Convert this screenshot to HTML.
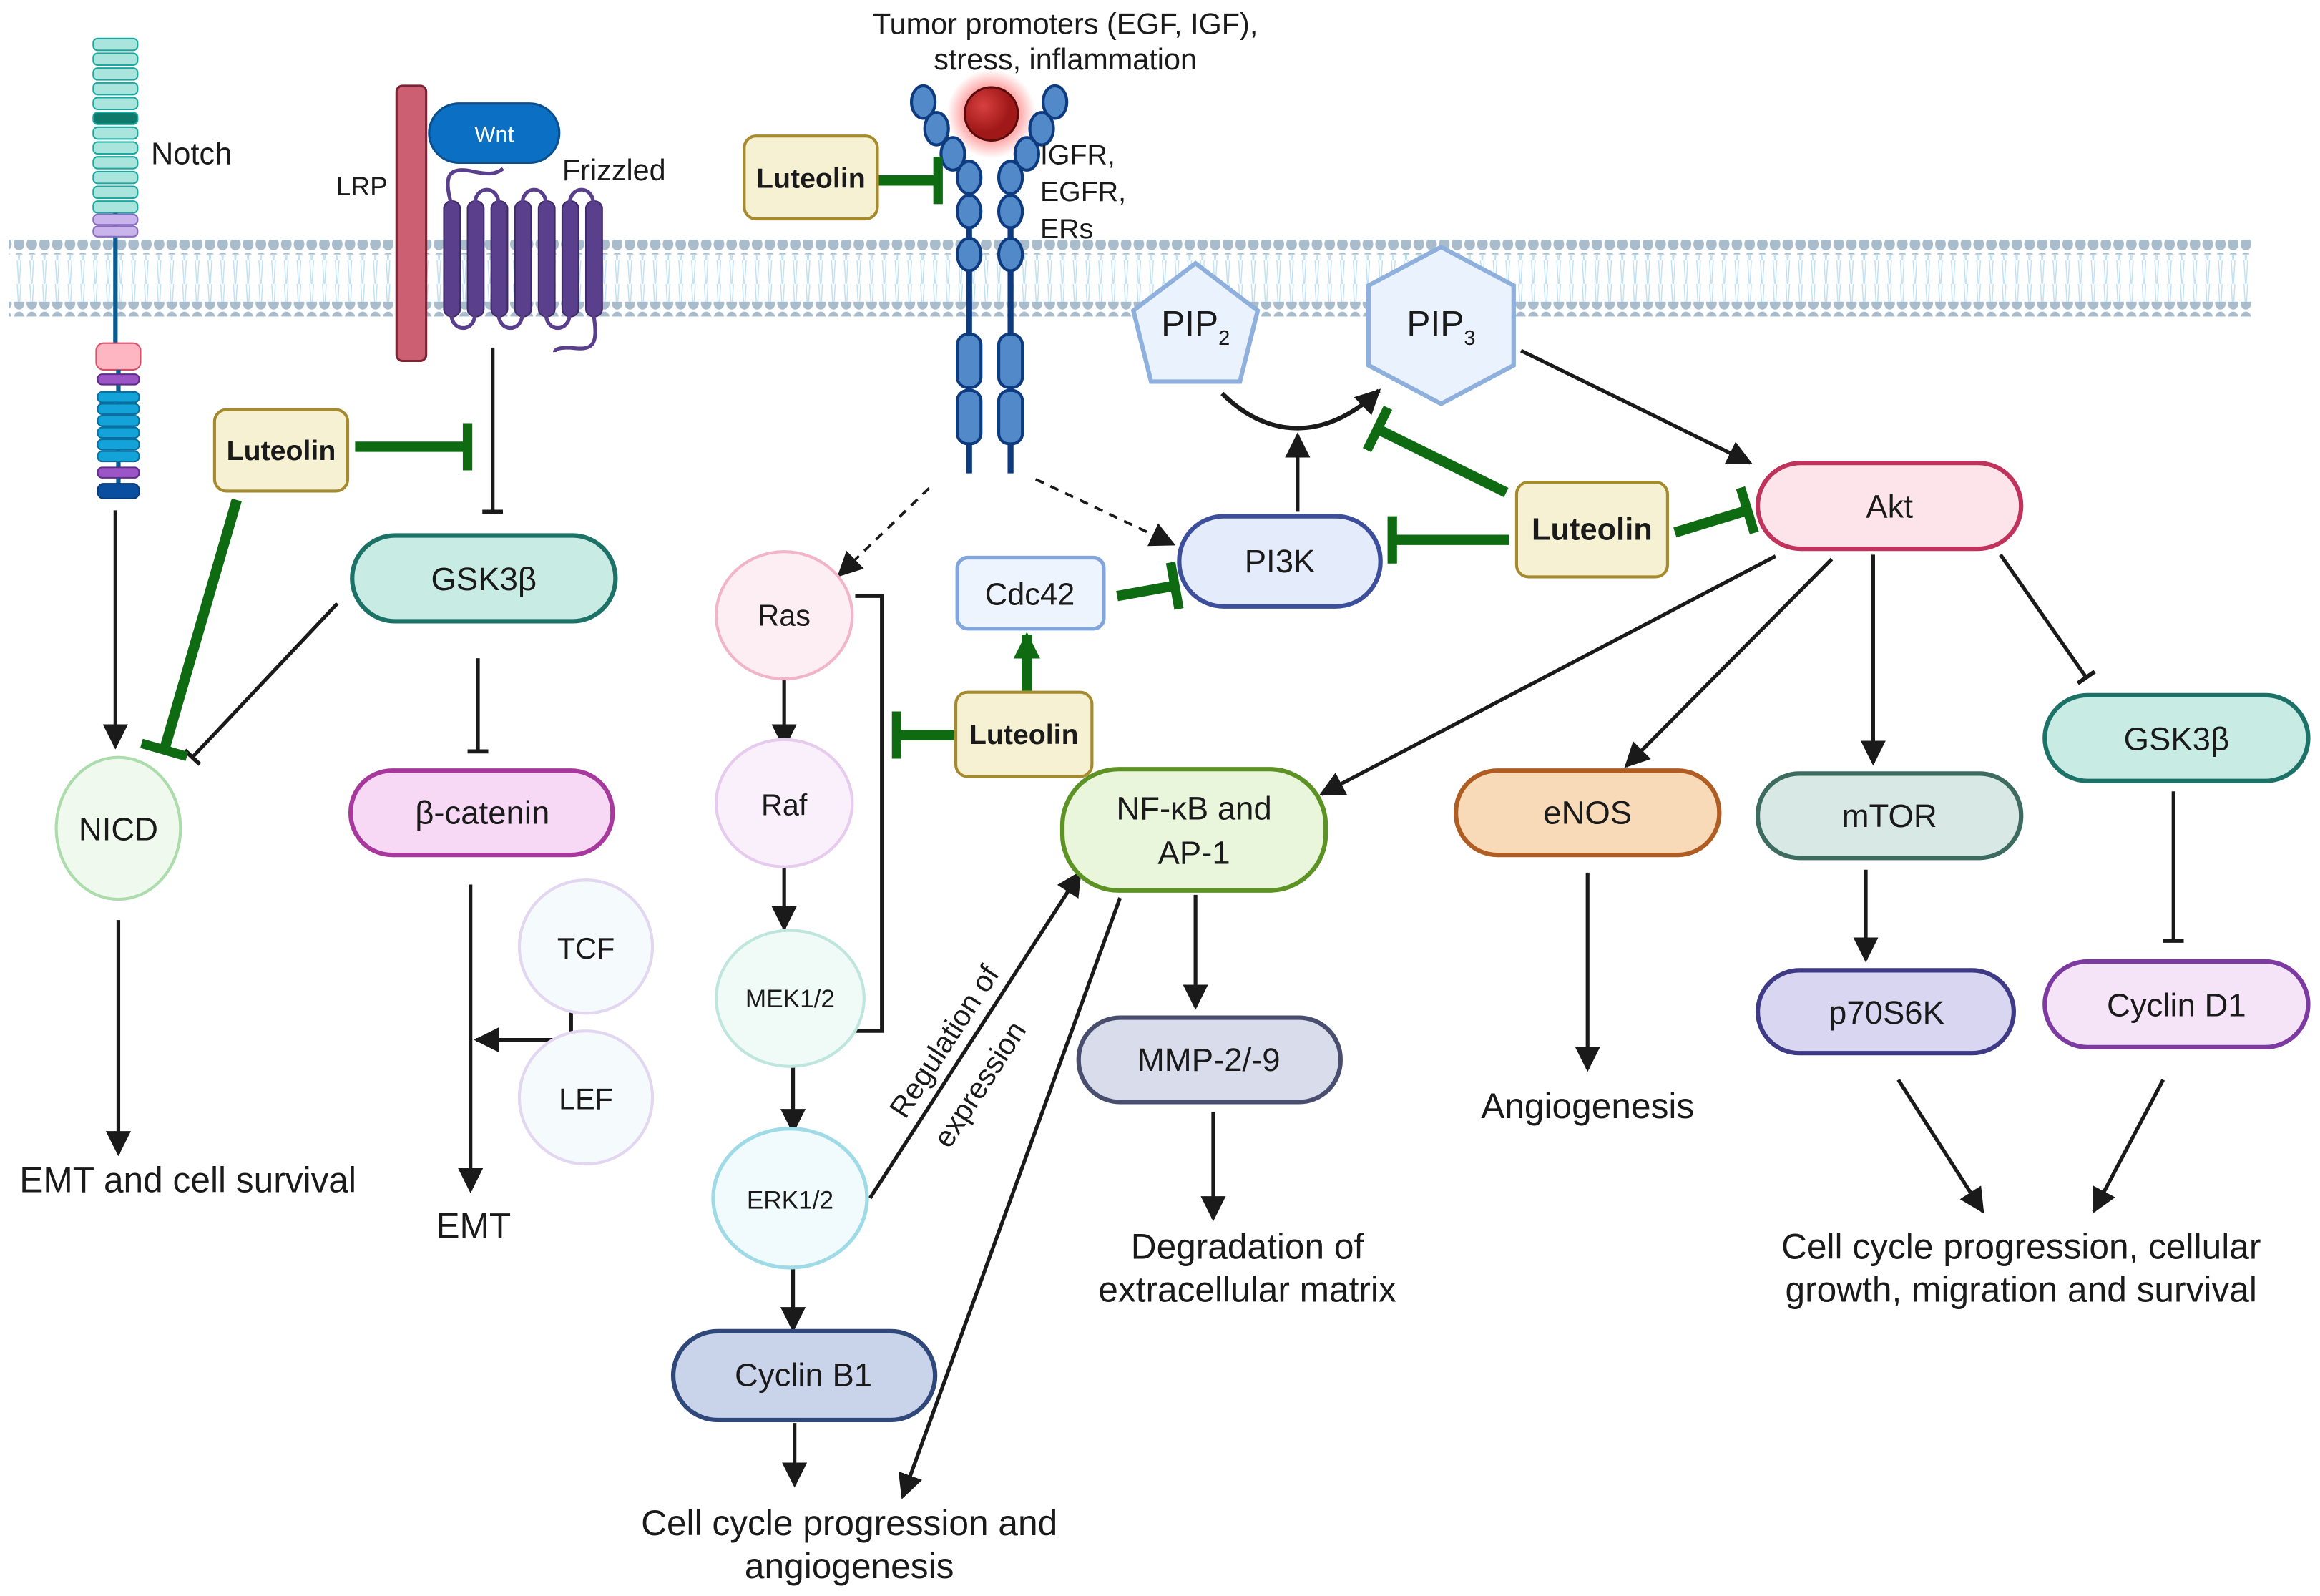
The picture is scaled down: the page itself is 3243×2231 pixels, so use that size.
<!DOCTYPE html>
<html><head><meta charset="utf-8"><style>
html,body{margin:0;padding:0;background:#fff;}
svg{display:block;}
text{font-family:"Liberation Sans",sans-serif;fill:#1a1a1a;}
</style></head><body>
<svg width="3243" height="2231" viewBox="0 0 1568 1079" preserveAspectRatio="none" xmlns="http://www.w3.org/2000/svg">
<defs>
<marker id="a" viewBox="0 0 10 10" refX="9" refY="5" markerWidth="17" markerHeight="17" orient="auto" markerUnits="userSpaceOnUse"><path d="M0,0L10,5L0,10z" fill="#1a1a1a"/></marker>
<marker id="ag" viewBox="0 0 10 10" refX="9" refY="5" markerWidth="18" markerHeight="18" orient="auto" markerUnits="userSpaceOnUse"><path d="M0,0L10,5L0,10z" fill="#0e6b12"/></marker>
<marker id="bar" viewBox="0 0 4 20" refX="2" refY="10" markerWidth="3" markerHeight="14" orient="auto" markerUnits="userSpaceOnUse"><rect x="0" y="0" width="4" height="20" fill="#1a1a1a"/></marker>
<marker id="gbar" viewBox="0 0 4 20" refX="2" refY="10" markerWidth="8" markerHeight="32" orient="auto" markerUnits="userSpaceOnUse"><rect x="0" y="0" width="4" height="20" fill="#0e6b12"/></marker>
<pattern id="heads" x="0" y="0" width="8.6" height="10" patternUnits="userSpaceOnUse"><ellipse cx="4.3" cy="5" rx="3.6" ry="4.3" fill="#a9bccb"/></pattern>
<pattern id="tails" x="0" y="0" width="8.6" height="16" patternUnits="userSpaceOnUse"><path d="M3,0L4,16M5.5,0L4.5,16" stroke="#bfe0f2" stroke-width="0.7" fill="none"/></pattern>
<radialGradient id="glow"><stop offset="0.5" stop-color="#ff4040" stop-opacity="0.6"/><stop offset="1" stop-color="#ff4040" stop-opacity="0"/></radialGradient>
<radialGradient id="ball" cx="0.35" cy="0.35"><stop offset="0" stop-color="#d84040"/><stop offset="1" stop-color="#a01818"/></radialGradient>
</defs>

<!-- membrane -->
<rect x="6" y="162" width="1516" height="10" fill="url(#heads)"/>
<rect x="6" y="172" width="1516" height="16" fill="url(#tails)"/>
<rect x="6" y="188" width="1516" height="16" fill="url(#tails)"/>
<rect x="6" y="204" width="1516" height="10" fill="url(#heads)"/>

<!-- Notch -->
<g stroke="#1aa9a0" stroke-width="1" fill="#a9e4dd">
<rect x="63" y="26" width="30" height="8" rx="3"/><rect x="63" y="36" width="30" height="8" rx="3"/><rect x="63" y="46" width="30" height="8" rx="3"/><rect x="63" y="56" width="30" height="8" rx="3"/><rect x="63" y="66" width="30" height="8" rx="3"/>
<rect x="63" y="76" width="30" height="8" rx="3" fill="#0d7a6c"/><rect x="63" y="86" width="30" height="8" rx="3"/><rect x="63" y="96" width="30" height="8" rx="3"/><rect x="63" y="106" width="30" height="8" rx="3"/><rect x="63" y="116" width="30" height="8" rx="3"/><rect x="63" y="126" width="30" height="8" rx="3"/><rect x="63" y="136" width="30" height="8" rx="3"/>
</g>
<line x1="78" y1="144" x2="78" y2="232" stroke="#0a5b8f" stroke-width="3"/>
<g stroke="#8a6bbf" fill="#c9b4ec"><rect x="63" y="145" width="30" height="7" rx="3"/><rect x="63" y="153" width="30" height="7" rx="3"/></g>
<rect x="65" y="232" width="30" height="18" rx="5" fill="#fdb6c2" stroke="#d85068"/>
<line x1="80" y1="250" x2="80" y2="334" stroke="#0a5b8f" stroke-width="3"/>
<rect x="66" y="253" width="28" height="7" rx="3" fill="#9b55c6" stroke="#5e2c8a"/>
<g fill="#13a3d8" stroke="#0a6fa0"><rect x="66" y="265" width="28" height="7" rx="3"/><rect x="66" y="273" width="28" height="7" rx="3"/><rect x="66" y="281" width="28" height="7" rx="3"/><rect x="66" y="289" width="28" height="7" rx="3"/><rect x="66" y="297" width="28" height="7" rx="3"/><rect x="66" y="305" width="28" height="7" rx="3"/></g>
<rect x="66" y="316" width="28" height="7" rx="3" fill="#9b55c6" stroke="#5e2c8a"/>
<rect x="66" y="327" width="28" height="10" rx="4" fill="#0a4ea0" stroke="#083a78"/>
<text x="102" y="111" font-size="21">Notch</text>

<!-- LRP / Wnt / Frizzled -->
<rect x="268" y="58" width="20" height="186" rx="4" fill="#cd5f73" stroke="#7a2434" stroke-width="1.5"/>
<text x="227" y="132" font-size="18">LRP</text>
<rect x="290" y="70" width="88" height="40" rx="20" fill="#0b6fc4" stroke="#0a4f8c" stroke-width="1.5"/>
<text x="334" y="96" font-size="15" text-anchor="middle" style="fill:#fff">Wnt</text>
<text x="380" y="122" font-size="20">Frizzled</text>
<g fill="#5a3f8c" stroke="#3e2a66" stroke-width="1">
<rect x="300" y="136" width="11" height="78" rx="5"/><rect x="316" y="136" width="11" height="78" rx="5"/><rect x="332" y="136" width="11" height="78" rx="5"/><rect x="348" y="136" width="11" height="78" rx="5"/><rect x="364" y="136" width="11" height="78" rx="5"/><rect x="380" y="136" width="11" height="78" rx="5"/><rect x="396" y="136" width="11" height="78" rx="5"/>
</g>
<g fill="none" stroke="#5a3f8c" stroke-width="2.5">
<path d="M305,138 C300,120 302,112 320,116 C330,118 335,118 340,114"/>
<path d="M321,138 C321,125 337,125 337,138"/><path d="M353,138 C353,125 369,125 369,138"/><path d="M385,138 C385,125 401,125 401,138"/>
<path d="M305,212 C305,225 321,225 321,212"/><path d="M337,212 C337,225 353,225 353,212"/><path d="M369,212 C369,225 385,225 385,212"/>
<path d="M401,212 C405,235 400,237 385,235 C378,235 375,236 375,238"/>
</g>

<!-- Receptor -->
<circle cx="670" cy="77" r="30" fill="url(#glow)"/>
<g stroke="#0e3a80" stroke-width="2" fill="#5289c8">
<line x1="655" y1="150" x2="655" y2="320" stroke-width="4"/><line x1="683" y1="150" x2="683" y2="320" stroke-width="4"/>
<ellipse cx="624" cy="69" rx="8" ry="11"/><ellipse cx="633" cy="87" rx="8" ry="11"/><ellipse cx="644" cy="104" rx="8" ry="11"/><ellipse cx="655" cy="120" rx="8" ry="11"/><ellipse cx="655" cy="143" rx="8" ry="11"/><ellipse cx="655" cy="172" rx="8" ry="11"/>
<ellipse cx="713" cy="69" rx="8" ry="11"/><ellipse cx="704" cy="87" rx="8" ry="11"/><ellipse cx="694" cy="104" rx="8" ry="11"/><ellipse cx="683" cy="120" rx="8" ry="11"/><ellipse cx="683" cy="143" rx="8" ry="11"/><ellipse cx="683" cy="172" rx="8" ry="11"/>
<rect x="647" y="226" width="16" height="36" rx="7"/><rect x="647" y="264" width="16" height="36" rx="7"/>
<rect x="675" y="226" width="16" height="36" rx="7"/><rect x="675" y="264" width="16" height="36" rx="7"/>
</g>
<circle cx="670" cy="77" r="18" fill="url(#ball)" stroke="#5a0c0c" stroke-width="1.5"/>
<text x="720" y="23" font-size="20" text-anchor="middle">Tumor promoters (EGF, IGF),</text>
<text x="720" y="47" font-size="20" text-anchor="middle">stress, inflammation</text>
<text x="703" y="111" font-size="19">IGFR,</text>
<text x="703" y="136" font-size="19">EGFR,</text>
<text x="703" y="161" font-size="19">ERs</text>

<!-- PIP2 / PIP3 -->
<polygon points="808,178 850,210 838,258 778,258 766,210" fill="#eaf2fd" stroke="#8fb0dc" stroke-width="3"/>
<text x="808" y="227" font-size="24" text-anchor="middle">PIP<tspan font-size="14" dy="6">2</tspan></text>
<polygon points="974,167 1023,193 1023,247 974,273 925,247 925,193" fill="#eaf2fd" stroke="#8fb0dc" stroke-width="3"/>
<text x="974" y="227" font-size="24" text-anchor="middle">PIP<tspan font-size="14" dy="6">3</tspan></text>
<path d="M826,266 C860,300 900,295 932,264" fill="none" stroke="#1a1a1a" stroke-width="3" marker-end="url(#a)"/>

<!-- connectors black -->
<g stroke="#1a1a1a" stroke-width="2.5" fill="none">
<line x1="78" y1="345" x2="78" y2="505" marker-end="url(#a)"/>
<line x1="228" y1="408" x2="130" y2="512" marker-end="url(#bar)"/>
<line x1="80" y1="622" x2="80" y2="780" marker-end="url(#a)"/>
<line x1="333" y1="235" x2="333" y2="346" marker-end="url(#bar)"/>
<line x1="323" y1="445" x2="323" y2="508" marker-end="url(#bar)"/>
<line x1="318" y1="598" x2="318" y2="805" marker-end="url(#a)"/>
<line x1="386" y1="655" x2="386" y2="730"/>
<line x1="386" y1="703" x2="322" y2="703" marker-end="url(#a)"/>
<line x1="628" y1="330" x2="567" y2="389" stroke-dasharray="6,5" stroke-width="1.8" marker-end="url(#a)"/>
<line x1="700" y1="324" x2="793" y2="368" stroke-dasharray="6,5" stroke-width="1.8" marker-end="url(#a)"/>
<line x1="530" y1="458" x2="530" y2="505" marker-end="url(#a)"/>
<line x1="530" y1="585" x2="530" y2="628" marker-end="url(#a)"/>
<line x1="536" y1="720" x2="536" y2="765" marker-end="url(#a)"/>
<line x1="536" y1="856" x2="536" y2="899" marker-end="url(#a)"/>
<line x1="537" y1="962" x2="537" y2="1004" marker-end="url(#a)"/>
<polyline points="578,403 596,403 596,697 578,697"/>
<line x1="877" y1="346" x2="877" y2="294" marker-end="url(#a)"/>
<line x1="1028" y1="237" x2="1183" y2="313" marker-end="url(#a)"/>
<line x1="1200" y1="376" x2="893" y2="537" marker-end="url(#a)"/>
<line x1="1238" y1="378" x2="1099" y2="518" marker-end="url(#a)"/>
<line x1="1266" y1="375" x2="1266" y2="516" marker-end="url(#a)"/>
<line x1="1352" y1="375" x2="1410" y2="458" marker-end="url(#bar)"/>
<line x1="1469" y1="535" x2="1469" y2="636" marker-end="url(#bar)"/>
<line x1="1261" y1="588" x2="1261" y2="649" marker-end="url(#a)"/>
<line x1="1283" y1="730" x2="1340" y2="819" marker-end="url(#a)"/>
<line x1="1462" y1="730" x2="1415" y2="819" marker-end="url(#a)"/>
<line x1="1073" y1="590" x2="1073" y2="723" marker-end="url(#a)"/>
<line x1="808" y1="605" x2="808" y2="681" marker-end="url(#a)"/>
<line x1="820" y1="752" x2="820" y2="824" marker-end="url(#a)"/>
<line x1="757" y1="607" x2="610" y2="1012" marker-end="url(#a)"/>
<line x1="588" y1="810" x2="730" y2="590" marker-end="url(#a)"/>
</g>
<text transform="translate(638,704) rotate(-57)" font-size="20" text-anchor="middle" y="7">Regulation of</text>
<text transform="translate(662,733) rotate(-57)" font-size="20" text-anchor="middle" y="7">expression</text>

<!-- green connectors -->
<g stroke="#0e6b12" stroke-width="7" fill="none">
<line x1="594" y1="122" x2="634" y2="122" marker-end="url(#gbar)"/>
<line x1="240" y1="302" x2="316" y2="302" marker-end="url(#gbar)"/>
<line x1="160" y1="338" x2="111" y2="507" marker-end="url(#gbar)"/>
<line x1="646" y1="497" x2="606" y2="497" marker-end="url(#gbar)"/>
<line x1="694" y1="467" x2="694" y2="429" marker-end="url(#ag)"/>
<line x1="755" y1="403" x2="794" y2="396" marker-end="url(#gbar)"/>
<line x1="1018" y1="333" x2="931" y2="290" marker-end="url(#gbar)"/>
<line x1="1020" y1="365" x2="941" y2="365" marker-end="url(#gbar)"/>
<line x1="1132" y1="360" x2="1181" y2="345" marker-end="url(#gbar)"/>
</g>

<!-- Luteolin boxes -->
<g fill="#f6f1d2" stroke="#a58a2e" stroke-width="2">
<rect x="503" y="92" width="90" height="56" rx="8"/>
<rect x="145" y="277" width="90" height="55" rx="8"/>
<rect x="646" y="468" width="92" height="57" rx="8"/>
<rect x="1025" y="326" width="102" height="64" rx="8"/>
</g>
<g font-size="19" font-weight="bold" text-anchor="middle">
<text x="548" y="127">Luteolin</text><text x="190" y="311">Luteolin</text><text x="692" y="503">Luteolin</text><text x="1076" y="365" font-size="21">Luteolin</text>
</g>

<!-- nodes -->
<g stroke-width="3">
<rect x="1188" y="313" width="178" height="58" rx="29" fill="#fde4ea" stroke="#c0335c"/>
<rect x="797" y="349" width="136" height="61" rx="30" fill="#e4ebfb" stroke="#3d4f9a"/>
<rect x="647" y="377" width="99" height="48" rx="7" fill="#eef4fd" stroke="#82a6dc" stroke-width="2.5"/>
<rect x="238" y="362" width="178" height="58" rx="29" fill="#c8ebe4" stroke="#1d7268"/>
<rect x="237" y="521" width="177" height="57" rx="28" fill="#f7d9f5" stroke="#a7389c"/>
<ellipse cx="80" cy="560" rx="42" ry="48" fill="#eff9ee" stroke="#acdcab" stroke-width="2"/>
<circle cx="396" cy="640" r="45" fill="#f5fbfd" stroke="#e2d6f0" stroke-width="2"/>
<circle cx="396" cy="742" r="45" fill="#f5fbfd" stroke="#e2d6f0" stroke-width="2"/>
<ellipse cx="530" cy="416" rx="46" ry="43" fill="#fdeef4" stroke="#f1b4c8" stroke-width="2"/>
<ellipse cx="530" cy="543" rx="46" ry="43" fill="#faf0fb" stroke="#e6cbee" stroke-width="2"/>
<ellipse cx="534" cy="675" rx="50" ry="46" fill="#f0faf7" stroke="#bfe6dc" stroke-width="2"/>
<ellipse cx="534" cy="810" rx="52" ry="47" fill="#f1fbfd" stroke="#9fdbe6" stroke-width="2.5"/>
<rect x="455" y="900" width="177" height="60" rx="30" fill="#c9d3ea" stroke="#2f4779"/>
<rect x="718" y="520" width="178" height="82" rx="38" fill="#eaf6dc" stroke="#5c9324"/>
<rect x="729" y="688" width="177" height="57" rx="28" fill="#d9dcea" stroke="#4a4e6e"/>
<rect x="984" y="521" width="178" height="57" rx="28" fill="#f8d9b8" stroke="#b05d23"/>
<rect x="1188" y="523" width="178" height="57" rx="28" fill="#d8e8e4" stroke="#3d6b60"/>
<rect x="1188" y="656" width="173" height="56" rx="28" fill="#d9d6f2" stroke="#3e3a86"/>
<rect x="1382" y="470" width="178" height="58" rx="29" fill="#c8ebe4" stroke="#1d7268"/>
<rect x="1382" y="650" width="178" height="58" rx="29" fill="#f5e3f8" stroke="#7d3aa0"/>
</g>
<g font-size="22" text-anchor="middle">
<text x="1277" y="350">Akt</text>
<text x="865" y="387">PI3K</text>
<text x="696" y="409" font-size="21">Cdc42</text>
<text x="327" y="399">GSK3β</text>
<text x="326" y="557">β-catenin</text>
<text x="80" y="568">NICD</text>
<text x="396" y="648" font-size="20">TCF</text>
<text x="396" y="750" font-size="20">LEF</text>
<text x="530" y="423" font-size="20">Ras</text>
<text x="530" y="551" font-size="20">Raf</text>
<text x="534" y="681" font-size="17">MEK1/2</text>
<text x="534" y="817" font-size="17">ERK1/2</text>
<text x="543" y="937">Cyclin B1</text>
<text x="807" y="554">NF-κB and</text>
<text x="807" y="584">AP-1</text>
<text x="817" y="724">MMP-2/-9</text>
<text x="1073" y="557">eNOS</text>
<text x="1277" y="559">mTOR</text>
<text x="1275" y="692">p70S6K</text>
<text x="1471" y="507">GSK3β</text>
<text x="1471" y="687">Cyclin D1</text>
</g>
<g font-size="24" text-anchor="middle">
<text x="127" y="806">EMT and cell survival</text>
<text x="320" y="837">EMT</text>
<text x="574" y="1038">Cell cycle progression and</text>
<text x="574" y="1067">angiogenesis</text>
<text x="843" y="851">Degradation of</text>
<text x="843" y="880">extracellular matrix</text>
<text x="1073" y="756">Angiogenesis</text>
<text x="1366" y="851">Cell cycle progression, cellular</text>
<text x="1366" y="880">growth, migration and survival</text>
</g>
</svg>
</body></html>
